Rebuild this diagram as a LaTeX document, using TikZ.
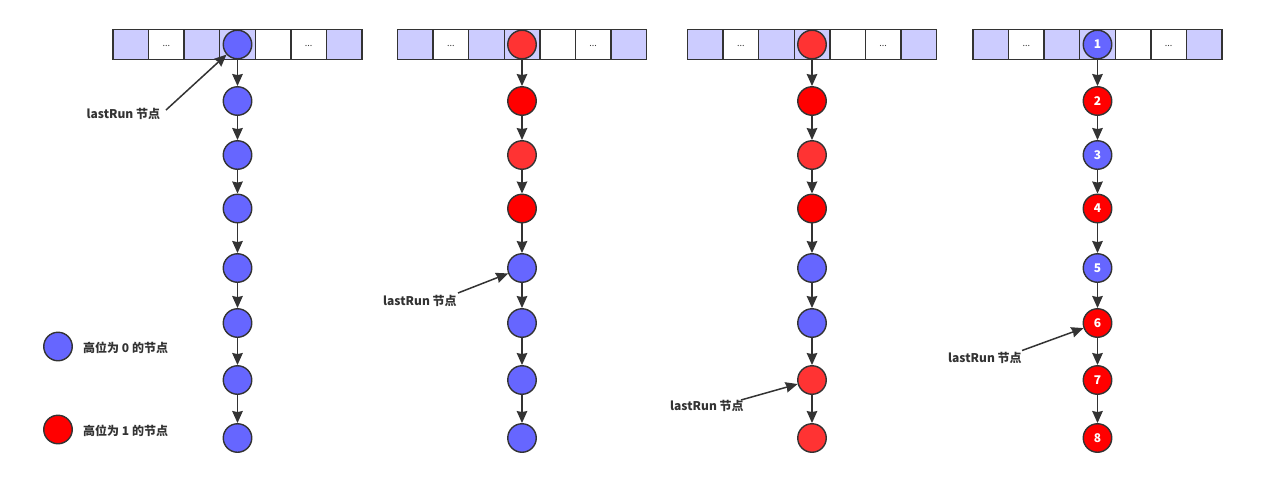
\documentclass[tikz,border=0pt]{standalone}
\usepackage{fontspec}
\newfontfamily\cjk{Noto Sans CJK SC}
\usetikzlibrary{arrows.meta}
\definecolor{nblue}{HTML}{6666FF}
\definecolor{nred}{HTML}{FF0000}
\definecolor{lred}{HTML}{FF3333}
\definecolor{cellb}{HTML}{CCCCFF}
\definecolor{dk}{HTML}{333333}
\tikzset{
  circ/.style={circle, draw=dk, line width=1.4pt, minimum size=28.5pt, inner sep=0pt},
  b/.style={circ, fill=nblue},
  r/.style={circ, fill=nred},
  lr/.style={circ, fill=lred},
  cellbox/.style={rectangle, draw=dk, line width=1.4pt, minimum width=35.6pt, minimum height=30.5pt, inner sep=0pt},
  link/.style={draw=dk, line width=1.5pt, -{Stealth[length=12pt,width=10.5pt,inset=1pt]}},
  lbl/.style={font=\cjk\bfseries\fontsize{12}{14}\selectfont, text=dk, anchor=west, inner sep=0pt},
  num/.style={font=\cjk\bfseries\fontsize{12}{14}\selectfont, text=white},
  dots/.style={font=\cjk\fontsize{9}{9}\selectfont, text=dk, text depth=-3pt}
}
\begin{document}
\begin{tikzpicture}[x=1pt,y=-1pt]
\useasboundingbox (0,0) rectangle (1261,477);
% arrays
\foreach \c/\X in {1/237.5,2/522,3/812,4/1097.5}{
  \foreach \k in {1,...,7}{
    \pgfmathsetmacro\cx{\X+(\k-4)*35.6}
    \ifnum\k=2 \node[cellbox, fill=white] (a\c-\k) at (\cx,44.5) {};
      \node[dots] at (\cx,46) {...};
    \else\ifnum\k=6 \node[cellbox, fill=white] (a\c-\k) at (\cx,44.5) {};
      \node[dots] at (\cx,46) {...};
    \else\ifnum\k=5 \node[cellbox, fill=white] (a\c-\k) at (\cx,44.5) {};
    \else \node[cellbox, fill=cellb] (a\c-\k) at (\cx,44.5) {};
    \fi\fi\fi
  }
}
% columns 1-3
\foreach \c/\X/\sty in {1/237.5/{b,b,b,b,b,b,b,b},2/522/{lr,r,lr,r,b,b,b,b},3/812/{lr,r,lr,r,b,b,lr,lr}}{
  \foreach \s [count=\i] in \sty {
    \pgfmathsetmacro\yy{{44.5,101,155,208.5,268,323,380,438}[\i-1]}
    \node[\s] (c\c-n\i) at (\X,\yy) {};
  }
}
% column 4
\foreach \s [count=\i] in {b,r,b,r,b,r,r,r}{
  \pgfmathsetmacro\yy{{44.5,101,155,208.5,268,323,380,438}[\i-1]}
  \node[\s, num] (c4-n\i) at (1097.5,\yy) {\i};
}
% links
\foreach \c in {1,2,3,4}{
  \foreach \i [evaluate=\i as \j using int(\i+1)] in {1,...,7}{
    \draw[link] (c\c-n\i) -- (c\c-n\j);
  }
}
% lastRun labels
\node[lbl] (l1) at (86.5,114) {lastRun 节点};
\node[lbl] (l2) at (383,301) {lastRun 节点};
\node[lbl] (l3) at (670,406) {lastRun 节点};
\node[lbl] (l4) at (948,357.5) {lastRun 节点};
\coordinate (s1) at (166,110);
\coordinate (s2) at (458,293);
\coordinate (s3) at (741,400);
\coordinate (s4) at (1022,350.5);
\draw[link] (s1) -- (c1-n1);
\draw[link] (s2) -- (c2-n5);
\draw[link] (s3) -- (c3-n7);
\draw[link] (s4) -- (c4-n6);
% legend
\node[b] (g1) at (58,346.5) {};
\node[r] (g2) at (58,429.5) {};
\node[lbl] (t1) at (83,347.5) {高位为 0 的节点};
\node[lbl] (t2) at (83,430.5) {高位为 1 的节点};
\end{tikzpicture}
\end{document}
